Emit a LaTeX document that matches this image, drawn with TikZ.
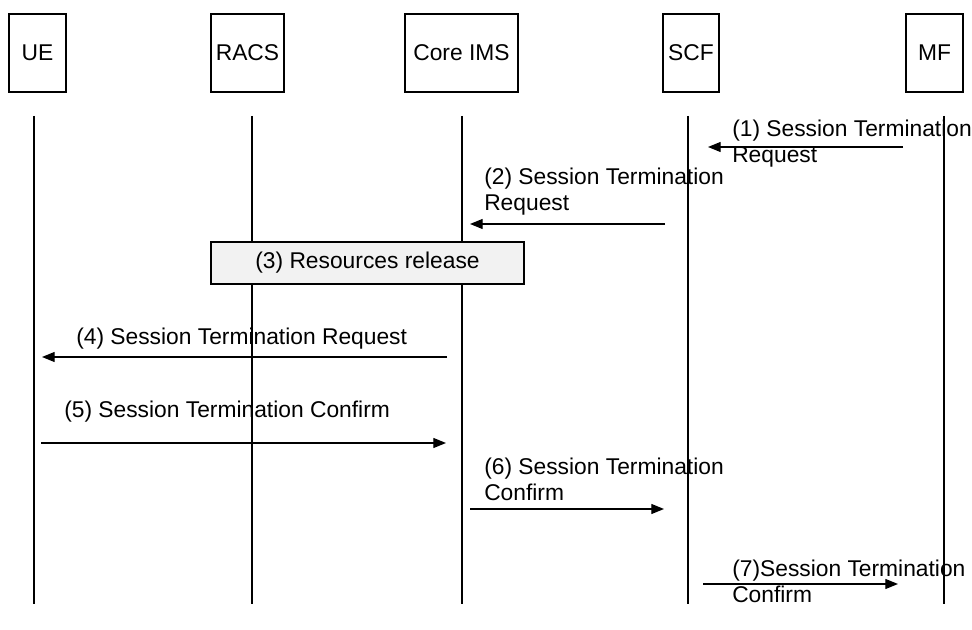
\documentclass[tikz,border=0pt]{standalone}
\usepackage{fontspec}
\setmainfont{Liberation Sans}
\usepackage{tikz}
\usetikzlibrary{arrows.meta}
\tikzset{
	entitynode/.style={rectangle, draw=black, line width=0.9pt, inner sep=0pt, minimum height=58.5pt, font=\fontsize{17.1}{19.5}\selectfont},
	actionnode/.style={rectangle, draw=black, fill=black!5, line width=0.9pt, inner sep=0pt, minimum width=234.75pt, minimum height=31.5pt, font=\fontsize{17.1}{19.5}\selectfont},
	msgtext/.style={anchor=base west, align=left, inner sep=0pt, font=\fontsize{17.1}{19.5}\selectfont},
	lifeline/.style={draw=black, line width=0.9pt},
	msgarrow/.style={-{Triangle[length=9.5pt, width=7.5pt]}, line width=0.9pt}
}

\begin{document}
\begin{tikzpicture}[x=0.75pt, y=-0.75pt]
		\useasboundingbox (0,0) rectangle (972,630);
		
		\node[entitynode, minimum width=42.75pt] at (37.5,53) (ue)   {UE};
		\node[entitynode, minimum width=54.75pt] at (247.5,53) (racs) {RACS};
		\node[entitynode, minimum width=84.75pt] at (461.5,53) (ims)  {Core IMS};
		\node[entitynode, minimum width=42pt] at (691,53) (scf)  {SCF};
		\node[entitynode, minimum width=42.75pt] at (934.5,53) (mf)   {MF};
		
		% lifelines
		\coordinate (ueT) at (34,116);    \coordinate (ueB) at (34,604);
		\coordinate (racsT) at (252,116); \coordinate (racsB) at (252,604);
		\coordinate (imsT) at (462,116);  \coordinate (imsB) at (462,604);
		\coordinate (scfT) at (688,116);  \coordinate (scfB) at (688,604);
		\coordinate (mfT) at (944,116);   \coordinate (mfB) at (944,604);
		\draw[lifeline] (ueT) -- (ueB);
		\draw[lifeline] (racsT) -- (racsB);
		\draw[lifeline] (imsT) -- (imsB);
		\draw[lifeline] (scfT) -- (scfB);
		\draw[lifeline] (mfT) -- (mfB);
		
		\node[actionnode] at (367.5,263) (rel) {(3) Resources release};
		
		% message ends
		\coordinate (m1a) at (903,147); \coordinate (m1b) at (708,147);
		\coordinate (m2a) at (665,224); \coordinate (m2b) at (470,224);
		\coordinate (m4a) at (447,357); \coordinate (m4b) at (42,357);
		\coordinate (m5a) at (41,443);  \coordinate (m5b) at (446,443);
		\coordinate (m6a) at (470,509); \coordinate (m6b) at (664,509);
		\coordinate (m7a) at (703,584); \coordinate (m7b) at (898,584);
		
		\draw[msgarrow] (m1a) -- (m1b);
		\draw[msgarrow] (m2a) -- (m2b);
		\draw[msgarrow] (m4a) -- (m4b);
		\draw[msgarrow] (m5a) -- (m5b);
		\draw[msgarrow] (m6a) -- (m6b);
		\draw[msgarrow] (m7a) -- (m7b);
		
		% two-line labels sit on the baseline of their last line
		\node[msgtext] at (732,163) (t1) {(1) Session Termination\\Request};
		\node[msgtext] at (484,211) (t2) {(2) Session Termination\\Request};
		\node[msgtext] at (76,345) (t4) {(4) Session Termination Request};
		\node[msgtext] at (64,418) (t5) {(5) Session Termination Confirm};
		\node[msgtext] at (484,501) (t6) {(6) Session Termination\\Confirm};
		\node[msgtext] at (732,603) (t7) {(7)Session Termination\\Confirm};
	\end{tikzpicture}
\end{document}
